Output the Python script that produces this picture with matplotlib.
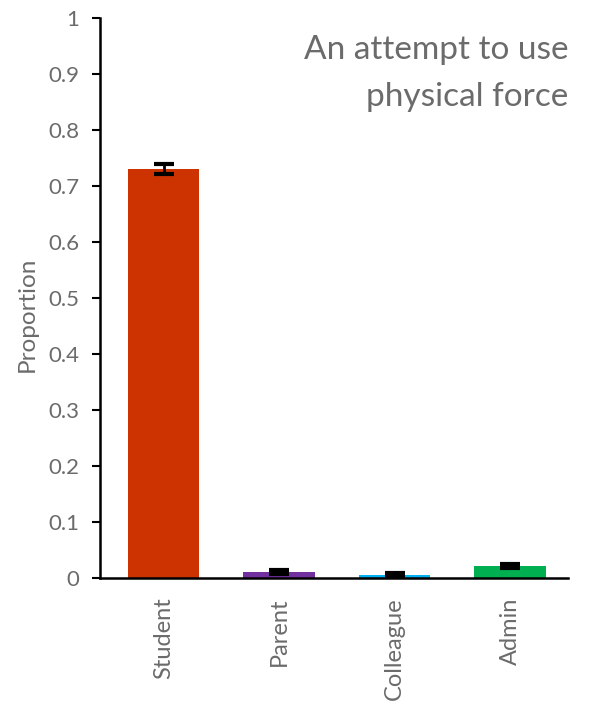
import matplotlib.pyplot as plt

categories = ["Student", "Parent", "Colleague", "Admin"]
proportions = [0.73, 0.011, 0.005, 0.021]
errors = [0.009, 0.003, 0.004, 0.004]
colors = ["#CC3300", "#7030A0", "#00B0F0", "#00B050"]

plt.rcParams['font.family'] = ['Lato', 'DejaVu Sans']

fig = plt.figure(figsize=(6.03, 7.06), dpi=100)
ax = fig.add_axes([100 / 603, 128 / 706, 468 / 603, 560 / 706])

x = range(len(categories))
ax.bar(x, proportions, width=0.62, color=colors, zorder=2)
ax.errorbar(x, proportions, yerr=errors, fmt='none', ecolor='black',
            elinewidth=2, capsize=7, capthick=3, zorder=3)

ax.set_ylim(0, 1)
ax.set_xlim(-0.55, 3.5)
ax.set_yticks([i / 10 for i in range(11)])
ax.set_yticklabels(["0", "0.1", "0.2", "0.3", "0.4", "0.5", "0.6", "0.7", "0.8", "0.9", "1"])
ax.set_xticks(list(x))
ax.set_xticklabels(categories, rotation=90)
ax.tick_params(axis='y', direction='out', length=6, width=1.5, colors='black',
               labelcolor='#6b6b6b', labelsize=16, pad=9)
ax.tick_params(axis='x', length=0, labelcolor='#6b6b6b', labelsize=17, pad=14)
ax.set_ylabel("Proportion", color='#6b6b6b', fontsize=17.5)
ax.yaxis.set_label_coords(-0.133, 0.47)

for side in ['top', 'right']:
    ax.spines[side].set_visible(False)
ax.spines['left'].set_linewidth(1.8)
ax.spines['bottom'].set_linewidth(1.8)

ax.text(1.0, 0.97, "An attempt to use\nphysical force", transform=ax.transAxes,
        ha='right', va='top', fontsize=24, color='#6b6b6b', linespacing=1.7)

fig.savefig("out.png", dpi=100)
